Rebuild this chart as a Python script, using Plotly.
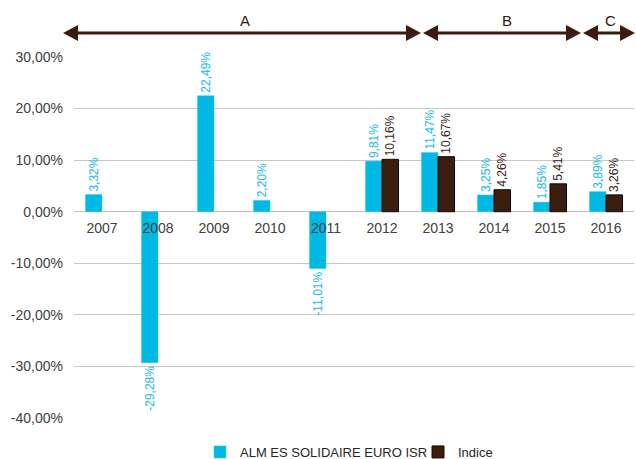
import plotly.graph_objects as go

years = ["2007", "2008", "2009", "2010", "2011", "2012", "2013", "2014", "2015", "2016"]
alm = [3.32, -29.28, 22.49, 2.20, -11.01, 9.81, 11.47, 3.25, 1.85, 3.89]
indice = [None, None, None, None, None, 10.16, 10.67, 4.26, 5.41, 3.26]
ytick_vals = [30, 20, 10, 0, -10, -20, -30, -40]
ytick_text = ["30,00%", "20,00%", "10,00%", "0,00%", "-10,00%", "-20,00%", "-30,00%", "-40,00%"]
period_labels = ["A", "B", "C"]

BLUE = "#00B8E4"
BROWN = "#3B1D0F"
FONT = "Liberation Sans, Arial, sans-serif"

def fmt(v):
    return "" if v is None else f"{v:.2f}".replace(".", ",") + "%"

fig = go.Figure()
fig.add_trace(go.Bar(
    x=years, y=alm, name="ALM ES SOLIDAIRE EURO ISR", legend="legend", showlegend=True,
    marker=dict(color=BLUE, line=dict(color="#33C6EC", width=0.5)),
    text=[fmt(v) for v in alm], textposition="outside", textangle=-90,
    textfont=dict(color="#22B8E6", size=12, family=FONT),
    constraintext="none", cliponaxis=False,
))
fig.add_trace(go.Bar(
    x=years, y=indice, name="Indice", legend="legend2", showlegend=True,
    marker=dict(color=BROWN, line=dict(color="#140803", width=1)),
    text=[fmt(v) for v in indice], textposition="outside", textangle=-90,
    textfont=dict(color="#3A2418", size=12, family=FONT),
    constraintext="none", cliponaxis=False,
))

# plot area geometry (pixels) for decorative arrows
L, R, T, B = 74, 2, 57, 41
W, H = 636 - L - R, 459 - T - B

def px(x):
    return (x - L) / W

def py(y):
    return (459 - B - y) / H

shapes = []
ARROW_Y = 33
HL, HH = 15, 8
def arrow(x0, x1):
    shapes.append(dict(type="line", xref="paper", yref="paper",
                       x0=px(x0 + HL - 1), x1=px(x1 - HL + 1), y0=py(ARROW_Y), y1=py(ARROW_Y),
                       line=dict(color=BROWN, width=3)))
    shapes.append(dict(type="path", xref="paper", yref="paper",
                       path=f"M {px(x0)} {py(ARROW_Y)} L {px(x0 + HL)} {py(ARROW_Y - HH)} L {px(x0 + HL)} {py(ARROW_Y + HH)} Z",
                       fillcolor=BROWN, line=dict(color=BROWN, width=0)))
    shapes.append(dict(type="path", xref="paper", yref="paper",
                       path=f"M {px(x1)} {py(ARROW_Y)} L {px(x1 - HL)} {py(ARROW_Y - HH)} L {px(x1 - HL)} {py(ARROW_Y + HH)} Z",
                       fillcolor=BROWN, line=dict(color=BROWN, width=0)))

arrow(63, 421)
arrow(423, 581)
arrow(583, 635)

annotations = []
for lab, xc in zip(period_labels, [245, 507, 610]):
    annotations.append(dict(text=lab, xref="paper", yref="paper", x=px(xc), y=py(20),
                            xanchor="center", yanchor="middle",
                            showarrow=False, font=dict(size=15, color="#2E1A10", family=FONT)))

legend_common = dict(orientation="h", xanchor="left", y=py(452), yanchor="middle",
                     font=dict(size=13, color="#262626", family=FONT), itemwidth=30,
                     bgcolor="rgba(0,0,0,0)", visible=True)

fig.update_layout(
    width=636, height=459, showlegend=True,
    margin=dict(l=L, r=R, t=T, b=B, autoexpand=False),
    paper_bgcolor="white", plot_bgcolor="white",
    font=dict(family=FONT, color="#404040"),
    barmode="group", bargap=0.41, bargroupgap=0,
    shapes=shapes, annotations=annotations,
    legend=dict(x=px(200), **legend_common),
    legend2=dict(x=px(418), **legend_common),
    xaxis=dict(type="category", anchor="free", position=40 / 70, showline=False,
               showgrid=False, ticks="", automargin=False, ticklabelstandoff=6,
               tickfont=dict(size=14, color="#404040")),
    yaxis=dict(range=[-40, 30], tickvals=ytick_vals, ticktext=ytick_text,
               showgrid=True, gridcolor="#C8C8C8", gridwidth=1, automargin=False,
               zeroline=True, zerolinecolor="#C0C0C0", zerolinewidth=1,
               tickfont=dict(size=14, color="#404040"), ticklabelstandoff=10),
)

fig.write_html("out.html", config={"displayModeBar": False},
               post_script="document.body.style.margin='0';document.body.style.overflow='hidden';")
